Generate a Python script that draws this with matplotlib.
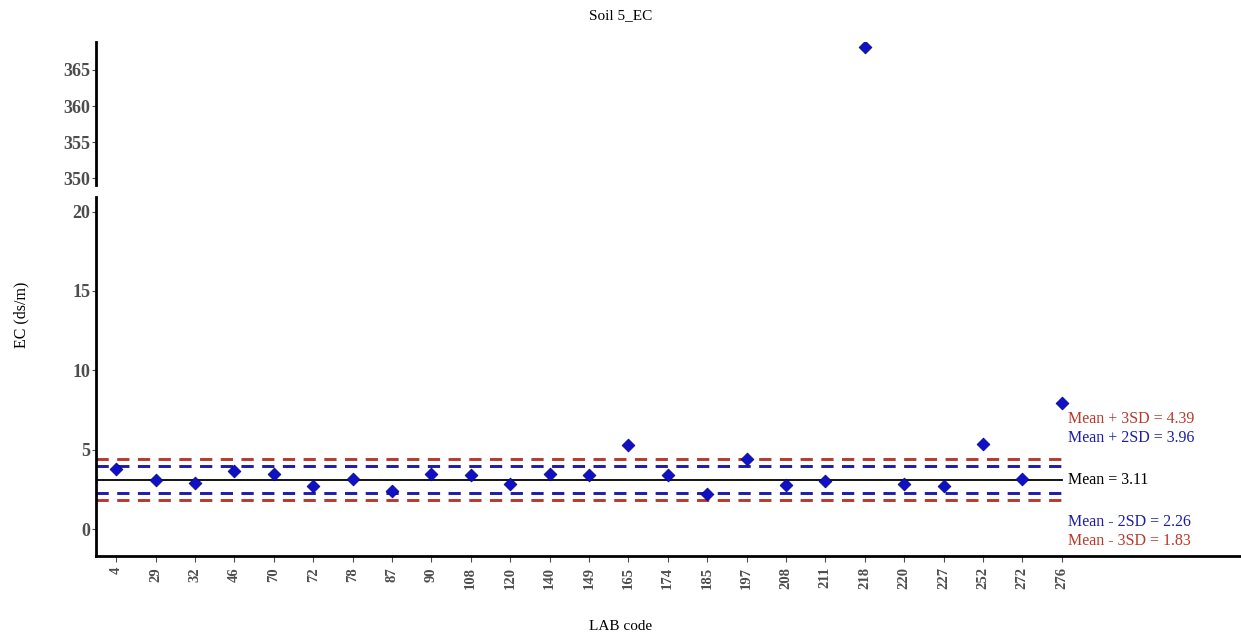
import numpy as np
import matplotlib.pyplot as plt

plt.rcParams['font.family'] = ['Liberation Serif', 'DejaVu Serif']

# lab codes and measured EC values (ds/m)
lab_codes = ['4', '29', '32', '46', '70', '72', '78', '87', '90', '108',
             '120', '140', '149', '165', '174', '185', '197', '208', '211', '218',
             '220', '227', '252', '272', '276']
ec_values = [3.81, 3.07, 2.91, 3.64, 3.49, 2.70, 3.18, 2.40, 3.45, 3.39,
             2.86, 3.49, 3.43, 5.31, 3.41, 2.24, 4.41, 2.80, 3.01, 368.1,
             2.82, 2.70, 5.38, 3.14, 7.92]

mean_val = 3.11
plus_3sd = 4.39
plus_2sd = 3.96
minus_2sd = 2.26
minus_3sd = 1.83

red = '#b8382c'
blue = '#1c1ca8'
tick_grey = '#4d4d4d'

x = np.arange(len(lab_codes))
y = np.array(ec_values)
xlim = (-0.51, 28.55)

fig = plt.figure(figsize=(12.41, 6.41), dpi=100)
ax_top = fig.add_axes([0.0774, 0.7114, 0.9226, 0.2236])
ax = fig.add_axes([0.0774, 0.1326, 0.9226, 0.5601])

# reference lines stop at the last lab
line_x = [xlim[0], x[-1]]
ax.plot(line_x, [mean_val] * 2, color='black', lw=1.3, zorder=2)
for val, col in [(plus_3sd, red), (minus_3sd, red), (plus_2sd, blue), (minus_2sd, blue)]:
    ax.plot(line_x, [val] * 2, color=col, lw=2.1, dashes=(4.2, 2.9), zorder=2)

for a in (ax, ax_top):
    a.scatter(x, y, marker='D', s=42, color='#1010c8', edgecolor='#0a0a80',
              linewidth=0.6, zorder=3)
    a.set_xlim(*xlim)
    for side in ('top', 'right'):
        a.spines[side].set_visible(False)
    a.spines['left'].set_linewidth(2)
    a.tick_params(axis='y', length=3, width=0.8, color=tick_grey, labelcolor=tick_grey,
                  labelsize=13, pad=1)

ax_top.set_ylim(349.1, 368.9)
ax_top.set_yticks([350, 355, 360, 365])
ax_top.spines['bottom'].set_visible(False)
ax_top.set_xticks([])
for lbl in ax_top.get_yticklabels():
    lbl.set_fontweight('bold')

ax.set_ylim(-1.69, 20.92)
ax.set_yticks([0, 5, 10, 15, 20])
for lbl in ax.get_yticklabels():
    lbl.set_fontweight('bold')
ax.spines['bottom'].set_linewidth(2)
ax.set_xticks(x)
ax.set_xticklabels(lab_codes, rotation=90, fontsize=10.5, color=tick_grey, fontweight='bold')
ax.tick_params(axis='x', length=4, width=0.8, color=tick_grey, pad=4)

# annotations for the control limits
tx = x[-1] + 0.17
ax.text(tx, 6.96, f'Mean + 3SD = {plus_3sd}', color=red, fontsize=11.5, va='center', ha='left')
ax.text(tx, 5.77, f'Mean + 2SD = {plus_2sd}', color=blue, fontsize=11.5, va='center', ha='left')
ax.text(tx, mean_val, f'Mean = {mean_val}', color='black', fontsize=11.5, va='center', ha='left')
ax.text(tx, 0.44, f'Mean - 2SD = {minus_2sd}', color=blue, fontsize=11.5, va='center', ha='left')
ax.text(tx, -0.75, f'Mean - 3SD = {minus_3sd}', color=red, fontsize=11.5, va='center', ha='left')

fig.text(0.5, 0.976, 'Soil 5_EC', ha='center', va='center', fontsize=11)
fig.text(0.5, 0.022, 'LAB code', ha='center', va='center', fontsize=11)
fig.text(0.017, 0.509, 'EC (ds/m)', ha='center', va='center', rotation=90, fontsize=11.5)

fig.savefig('out.png', dpi=100)
